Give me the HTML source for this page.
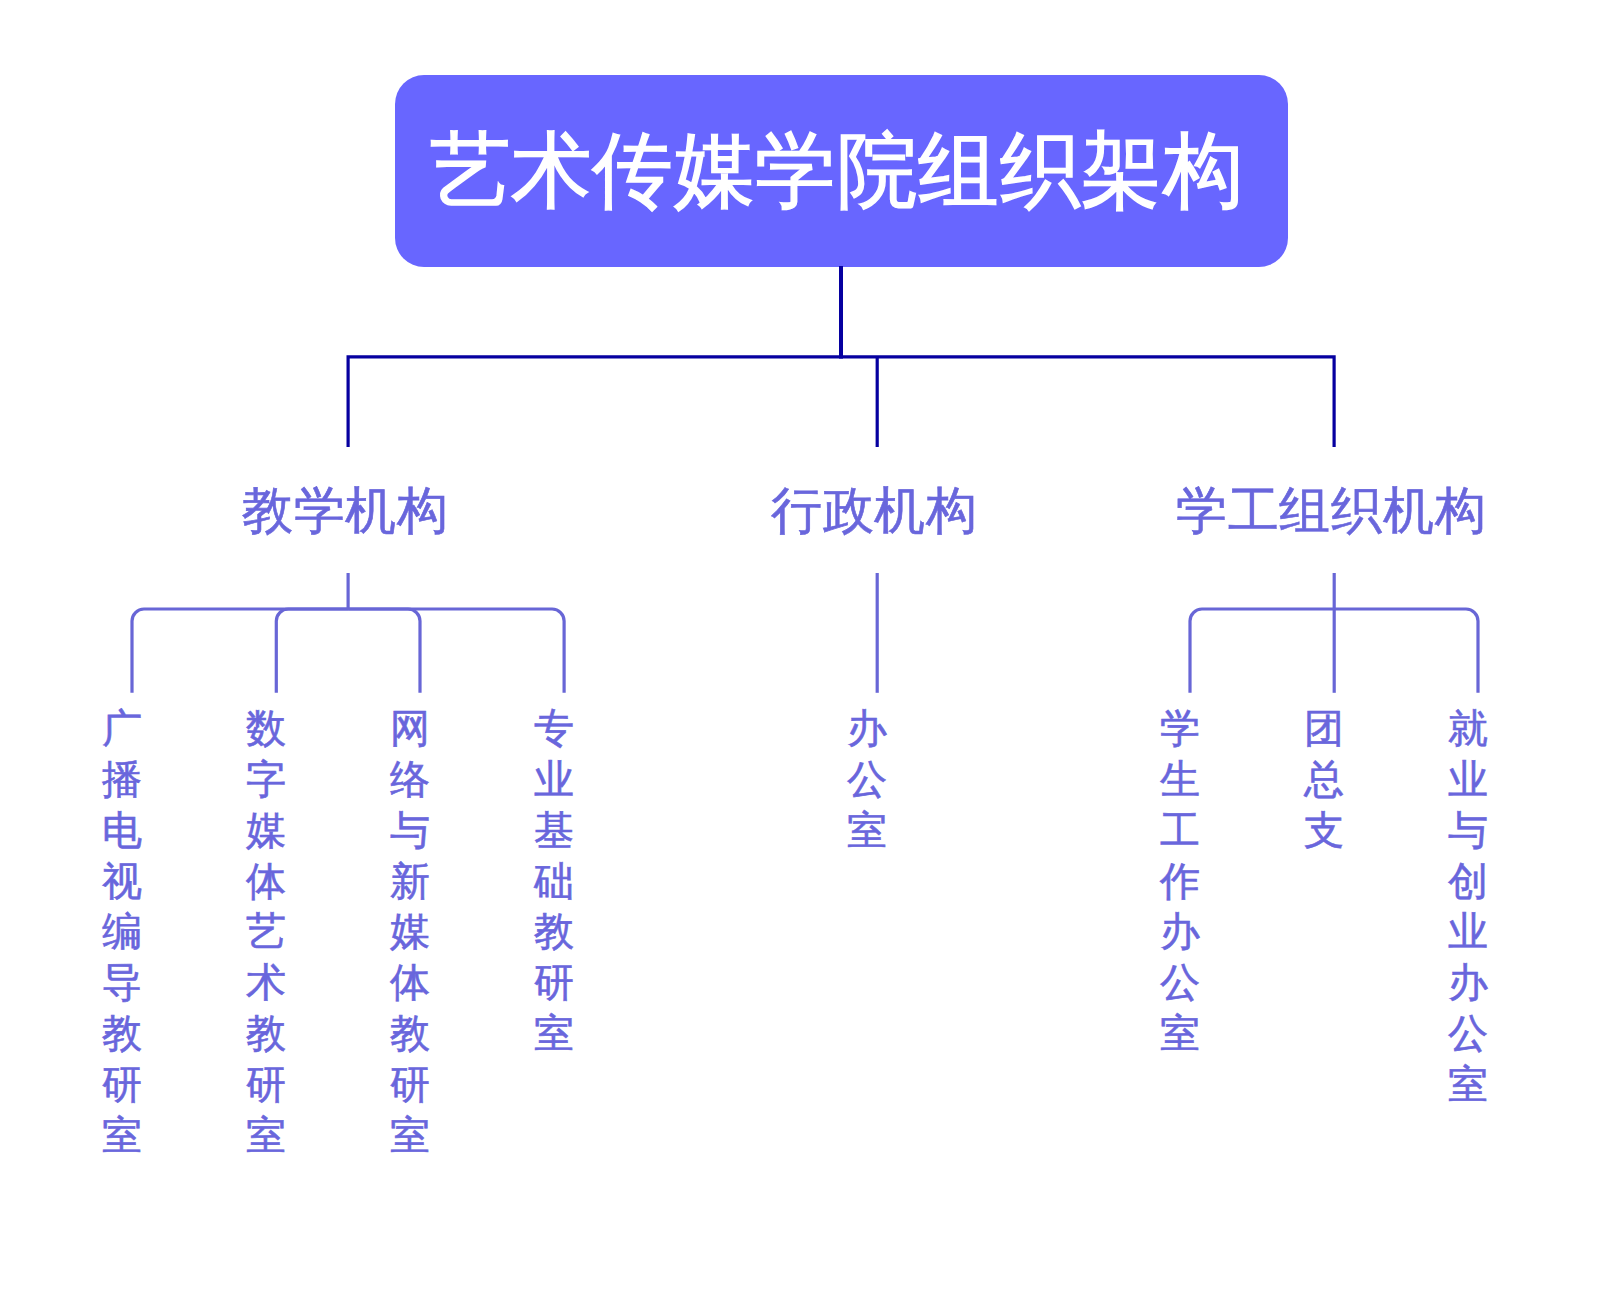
<!DOCTYPE html>
<html>
<head>
<meta charset="utf-8">
<style>
html,body{margin:0;padding:0;background:#fff;}
body{width:1610px;height:1296px;position:relative;overflow:hidden;font-family:"Liberation Sans",sans-serif;}
.box{position:absolute;left:394.5px;top:75px;width:893px;height:191.7px;background:#6866FF;border-radius:29px;}
.title{position:absolute;left:429.5px;top:110px;line-height:120px;color:#fff;font-size:81px;white-space:nowrap;letter-spacing:0.45px;-webkit-text-stroke:1.4px #fff;transform:scaleY(1.03);transform-origin:0 55px;}
.l2{position:absolute;color:#6966DC;font-size:51.3px;white-space:nowrap;line-height:60px;top:481px;letter-spacing:0.7px;-webkit-text-stroke:0.6px #6966DC;}
.col{position:absolute;color:#6966DC;font-size:40px;width:50px;text-align:center;line-height:50.8px;top:703.3px;-webkit-text-stroke:0.6px #6966DC;}
svg{position:absolute;left:0;top:0;}
</style>
</head>
<body>
<div class="box"></div>
<div class="title">艺术传媒学院组织架构</div>
<svg width="1610" height="1296" viewBox="0 0 1610 1296">
  <g stroke="#0600A0" fill="none" stroke-width="3.2">
    <path d="M841 266 V358.6" stroke-width="4"/>
    <path d="M348.1 447 V356.9 H1334.1 V447"/>
    <path d="M877.2 356.9 V447"/>
  </g>
  <g stroke="#6866D6" fill="none" stroke-width="3.2">
    <path d="M348.1 573 V609"/>
    <path d="M348.1 609 H144 A12 12 0 0 0 132 621 V692.8"/>
    <path d="M348.1 609 H288.3 A12 12 0 0 0 276.3 621 V692.8"/>
    <path d="M348.1 609 H408 A12 12 0 0 1 420 621 V692.8"/>
    <path d="M348.1 609 H552.1 A12 12 0 0 1 564.1 621 V692.8"/>
    <path d="M877.2 573 V692.8"/>
    <path d="M1334.2 573 V692.8"/>
    <path d="M1334.2 609 H1202 A12 12 0 0 0 1190 621 V692.8"/>
    <path d="M1334.2 609 H1466 A12 12 0 0 1 1478 621 V692.8"/>
  </g>
</svg>
<div class="l2" style="left:242px">教学机构</div>
<div class="l2" style="left:771px">行政机构</div>
<div class="l2" style="left:1176px">学工组织机构</div>

<div class="col" style="left:96.5px">广<br>播<br>电<br>视<br>编<br>导<br>教<br>研<br>室</div>
<div class="col" style="left:240.5px">数<br>字<br>媒<br>体<br>艺<br>术<br>教<br>研<br>室</div>
<div class="col" style="left:384.5px">网<br>络<br>与<br>新<br>媒<br>体<br>教<br>研<br>室</div>
<div class="col" style="left:528.5px">专<br>业<br>基<br>础<br>教<br>研<br>室</div>
<div class="col" style="left:841.6px">办<br>公<br>室</div>
<div class="col" style="left:1154.6px">学<br>生<br>工<br>作<br>办<br>公<br>室</div>
<div class="col" style="left:1298.7px">团<br>总<br>支</div>
<div class="col" style="left:1442.7px">就<br>业<br>与<br>创<br>业<br>办<br>公<br>室</div>
</body>
</html>
